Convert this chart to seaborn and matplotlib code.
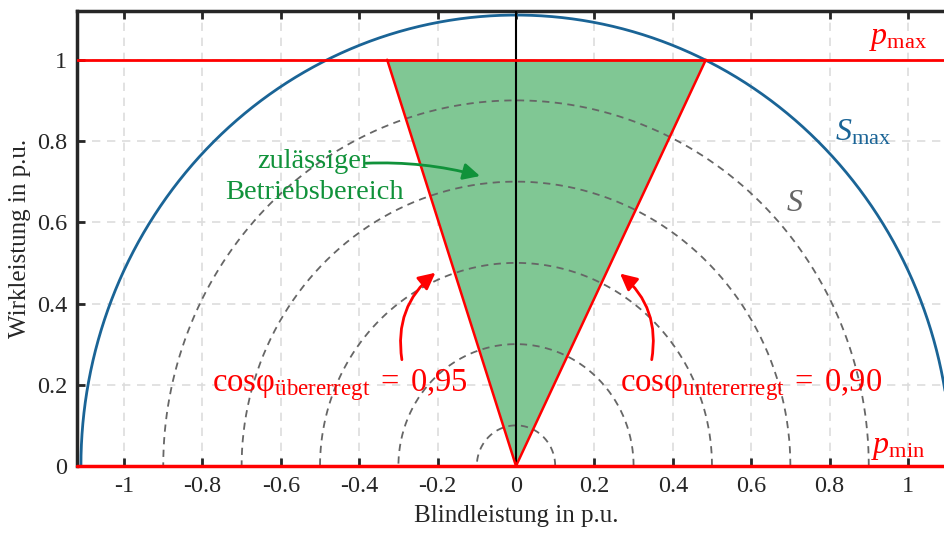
#!/usr/bin/env python3
"""P-Q operating chart: permitted operating area of a generator."""

import matplotlib
matplotlib.use("Agg")
import matplotlib.pyplot as plt
import numpy as np
import pandas as pd
import seaborn as sns
from matplotlib.patches import FancyArrowPatch
from matplotlib.ticker import FuncFormatter

# Chart values.
S_MAX = 1.11
S_RADII = [0.1, 0.3, 0.5, 0.7, 0.9]
P_MAX = 1.0
P_MIN = 0.0
COS_UEBER = 0.95
COS_UNTER = 0.90
X_TICKS = [-1, -0.8, -0.6, -0.4, -0.2, 0, 0.2, 0.4, 0.6, 0.8, 1]
Y_TICKS = [0, 0.2, 0.4, 0.6, 0.8, 1]

RED = "#ff0000"
BLUE = "#1a6496"
GREEN_FILL = "#80c794"
GREEN_TEXT = "#10923a"
GRAY = "#666666"


def half_circle(r, n=400):
    phi = np.linspace(0, np.pi, n)
    return pd.DataFrame({"q": r * np.cos(phi), "p": r * np.sin(phi)})


def main() -> None:
    sns.set_style("ticks")
    plt.rcParams["font.family"] = ["Liberation Serif", "DejaVu Serif"]
    plt.rcParams["mathtext.fontset"] = "custom"
    plt.rcParams["mathtext.rm"] = "Liberation Serif"
    plt.rcParams["mathtext.it"] = "Liberation Serif:italic"
    plt.rcParams["mathtext.fallback"] = "stix"
    plt.rcParams["axes.unicode_minus"] = False

    fig = plt.figure(figsize=(9.44, 5.36), dpi=100)
    ax = fig.add_axes([77 / 944, 70 / 536, 878 / 944, 455 / 536])

    # Dashed circles of constant apparent power.
    for r in S_RADII:
        sns.lineplot(data=half_circle(r), x="q", y="p", sort=False, ax=ax,
                     color=GRAY, lw=1.3, linestyle=(0, (4, 3)), zorder=3)

    # Permitted operating area.
    q_left = -P_MAX * np.tan(np.arccos(COS_UEBER))
    q_right = P_MAX * np.tan(np.arccos(COS_UNTER))
    ax.fill([0, q_left, q_right], [0, P_MAX, P_MAX], color=GREEN_FILL,
            lw=0, zorder=2)
    tri = pd.DataFrame({"q": [q_left, 0, q_right], "p": [P_MAX, 0, P_MAX]})
    sns.lineplot(data=tri, x="q", y="p", sort=False, ax=ax, color=RED,
                 lw=1.8, zorder=5)

    # Limits.
    sns.lineplot(data=half_circle(S_MAX), x="q", y="p", sort=False, ax=ax,
                 color=BLUE, lw=2, zorder=4)
    ax.axhline(P_MAX, color=RED, lw=2, zorder=5)
    ax.axhline(P_MIN, color=RED, lw=2.5, zorder=5, clip_on=False)
    ax.axvline(0, color="black", lw=1.5, zorder=4)

    ax.set_xlim(-1.12, 1.12)
    ax.set_ylim(0, 1.12)
    ax.set_xticks(X_TICKS)
    ax.set_yticks(Y_TICKS)
    fmt = FuncFormatter(lambda v, _: f"{v:g}")
    ax.xaxis.set_major_formatter(fmt)
    ax.yaxis.set_major_formatter(fmt)
    ax.tick_params(direction="in", length=6, width=2, labelsize=17.5,
                   colors="#262626", top=True, pad=7)
    ax.grid(True, color="#dddddd", linestyle=(0, (5, 4)), lw=1.2, zorder=0)
    for side in ["left", "top"]:
        ax.spines[side].set_linewidth(2.5)
        ax.spines[side].set_color("#262626")
    ax.spines["right"].set_visible(False)
    ax.spines["bottom"].set_visible(False)

    ax.set_xlabel("Blindleistung in p.u.", fontsize=18, labelpad=6)
    ax.set_ylabel("Wirkleistung in p.u.", fontsize=18, labelpad=4)

    # Labels.
    ax.text(0.975, 1.052, r"$p_{\mathrm{max}}$", color=RED, fontsize=23,
            ha="center", va="center")
    ax.text(0.975, 0.045, r"$p_{\mathrm{min}}$", color=RED, fontsize=23,
            ha="center", va="center")
    ax.text(0.885, 0.82, r"$S_{\mathrm{max}}$", color=BLUE, fontsize=23,
            ha="center", va="center")
    ax.text(0.71, 0.645, r"$S$", color=GRAY, fontsize=23, ha="center",
            va="center")
    ax.text(-0.515, 0.712, "zulässiger\nBetriebsbereich", color=GREEN_TEXT,
            fontsize=20.5, ha="center", va="center", linespacing=1.3)
    ax.add_patch(FancyArrowPatch((-0.39, 0.745), (-0.085, 0.712),
                                 connectionstyle="arc3,rad=-0.08",
                                 arrowstyle="-|>,head_length=10,head_width=5",
                                 color=GREEN_TEXT, lw=2, zorder=6))

    ax.text(-0.45, 0.2,
            r"$\mathrm{cos}\mathrm{φ}_{\mathrm{übererregt}}\;=\;0{,}95$",
            color=RED, fontsize=23.5, ha="center", va="center")
    ax.text(0.6, 0.2,
            r"$\mathrm{cos}\mathrm{φ}_{\mathrm{untererregt}}\;=\;0{,}90$",
            color=RED, fontsize=23.5, ha="center", va="center")
    ax.add_patch(FancyArrowPatch((-0.29, 0.255), (-0.2, 0.48),
                                 connectionstyle="arc3,rad=-0.3",
                                 arrowstyle="-|>,head_length=10,head_width=5",
                                 color=RED, lw=2, zorder=6))
    ax.add_patch(FancyArrowPatch((0.345, 0.255), (0.26, 0.478),
                                 connectionstyle="arc3,rad=0.3",
                                 arrowstyle="-|>,head_length=10,head_width=5",
                                 color=RED, lw=2, zorder=6))

    fig.savefig("out.png", dpi=100)


if __name__ == "__main__":
    main()
